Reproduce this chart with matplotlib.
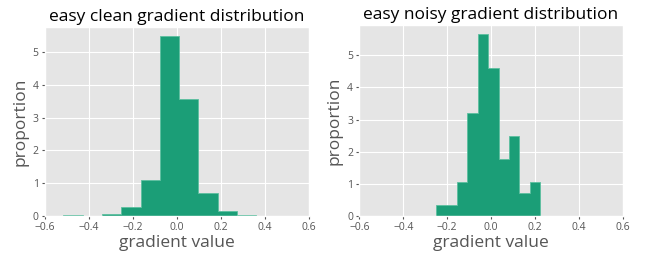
import numpy as np
import matplotlib
matplotlib.use("Agg")
import matplotlib.pyplot as plt

plt.style.use("ggplot")
plt.rcParams["font.family"] = ["Open Sans", "DejaVu Sans"]

# bin edges and densities
clean_edges = np.linspace(-0.517, 0.361, 11)
clean_density = [0.04, 0.0, 0.07, 0.28, 1.11, 5.49, 3.56, 0.69, 0.16, 0.03]

noisy_edges = np.linspace(-0.251, 0.225, 11)
noisy_density = [0.35, 0.35, 1.07, 3.2, 5.66, 4.6, 1.78, 2.48, 0.72, 1.07]

titles = ["easy clean gradient distribution", "easy noisy gradient distribution"]
color = "#1b9e77"

fig = plt.figure(figsize=(6.47, 2.61), dpi=100)
ax1 = fig.add_axes([45 / 647, 45 / 261, 264 / 647, 189 / 261])
ax2 = fig.add_axes([359.3 / 647, 45 / 261, 263.4 / 647, 191 / 261])

for ax, edges, dens, title in [(ax1, clean_edges, clean_density, titles[0]),
                               (ax2, noisy_edges, noisy_density, titles[1])]:
    ax.hist(edges[:-1], bins=edges, weights=dens, histtype="stepfilled",
            facecolor=color, edgecolor="#5cbf9f", linewidth=0.6)
    ax.set_xlim(-0.6, 0.6)
    ax.set_xticks(np.arange(-0.6, 0.61, 0.2))
    ax.set_title(title, fontsize=12.5, color="black", pad=4)
    ax.set_xlabel("gradient value", fontsize=12.5, color="#555555", labelpad=1)
    ax.set_ylabel("proportion", fontsize=12.5, color="#555555", labelpad=3)
    ax.tick_params(labelsize=7.5, colors="#555555", length=2, pad=2.5)

fig.savefig("out.png", dpi=100)
